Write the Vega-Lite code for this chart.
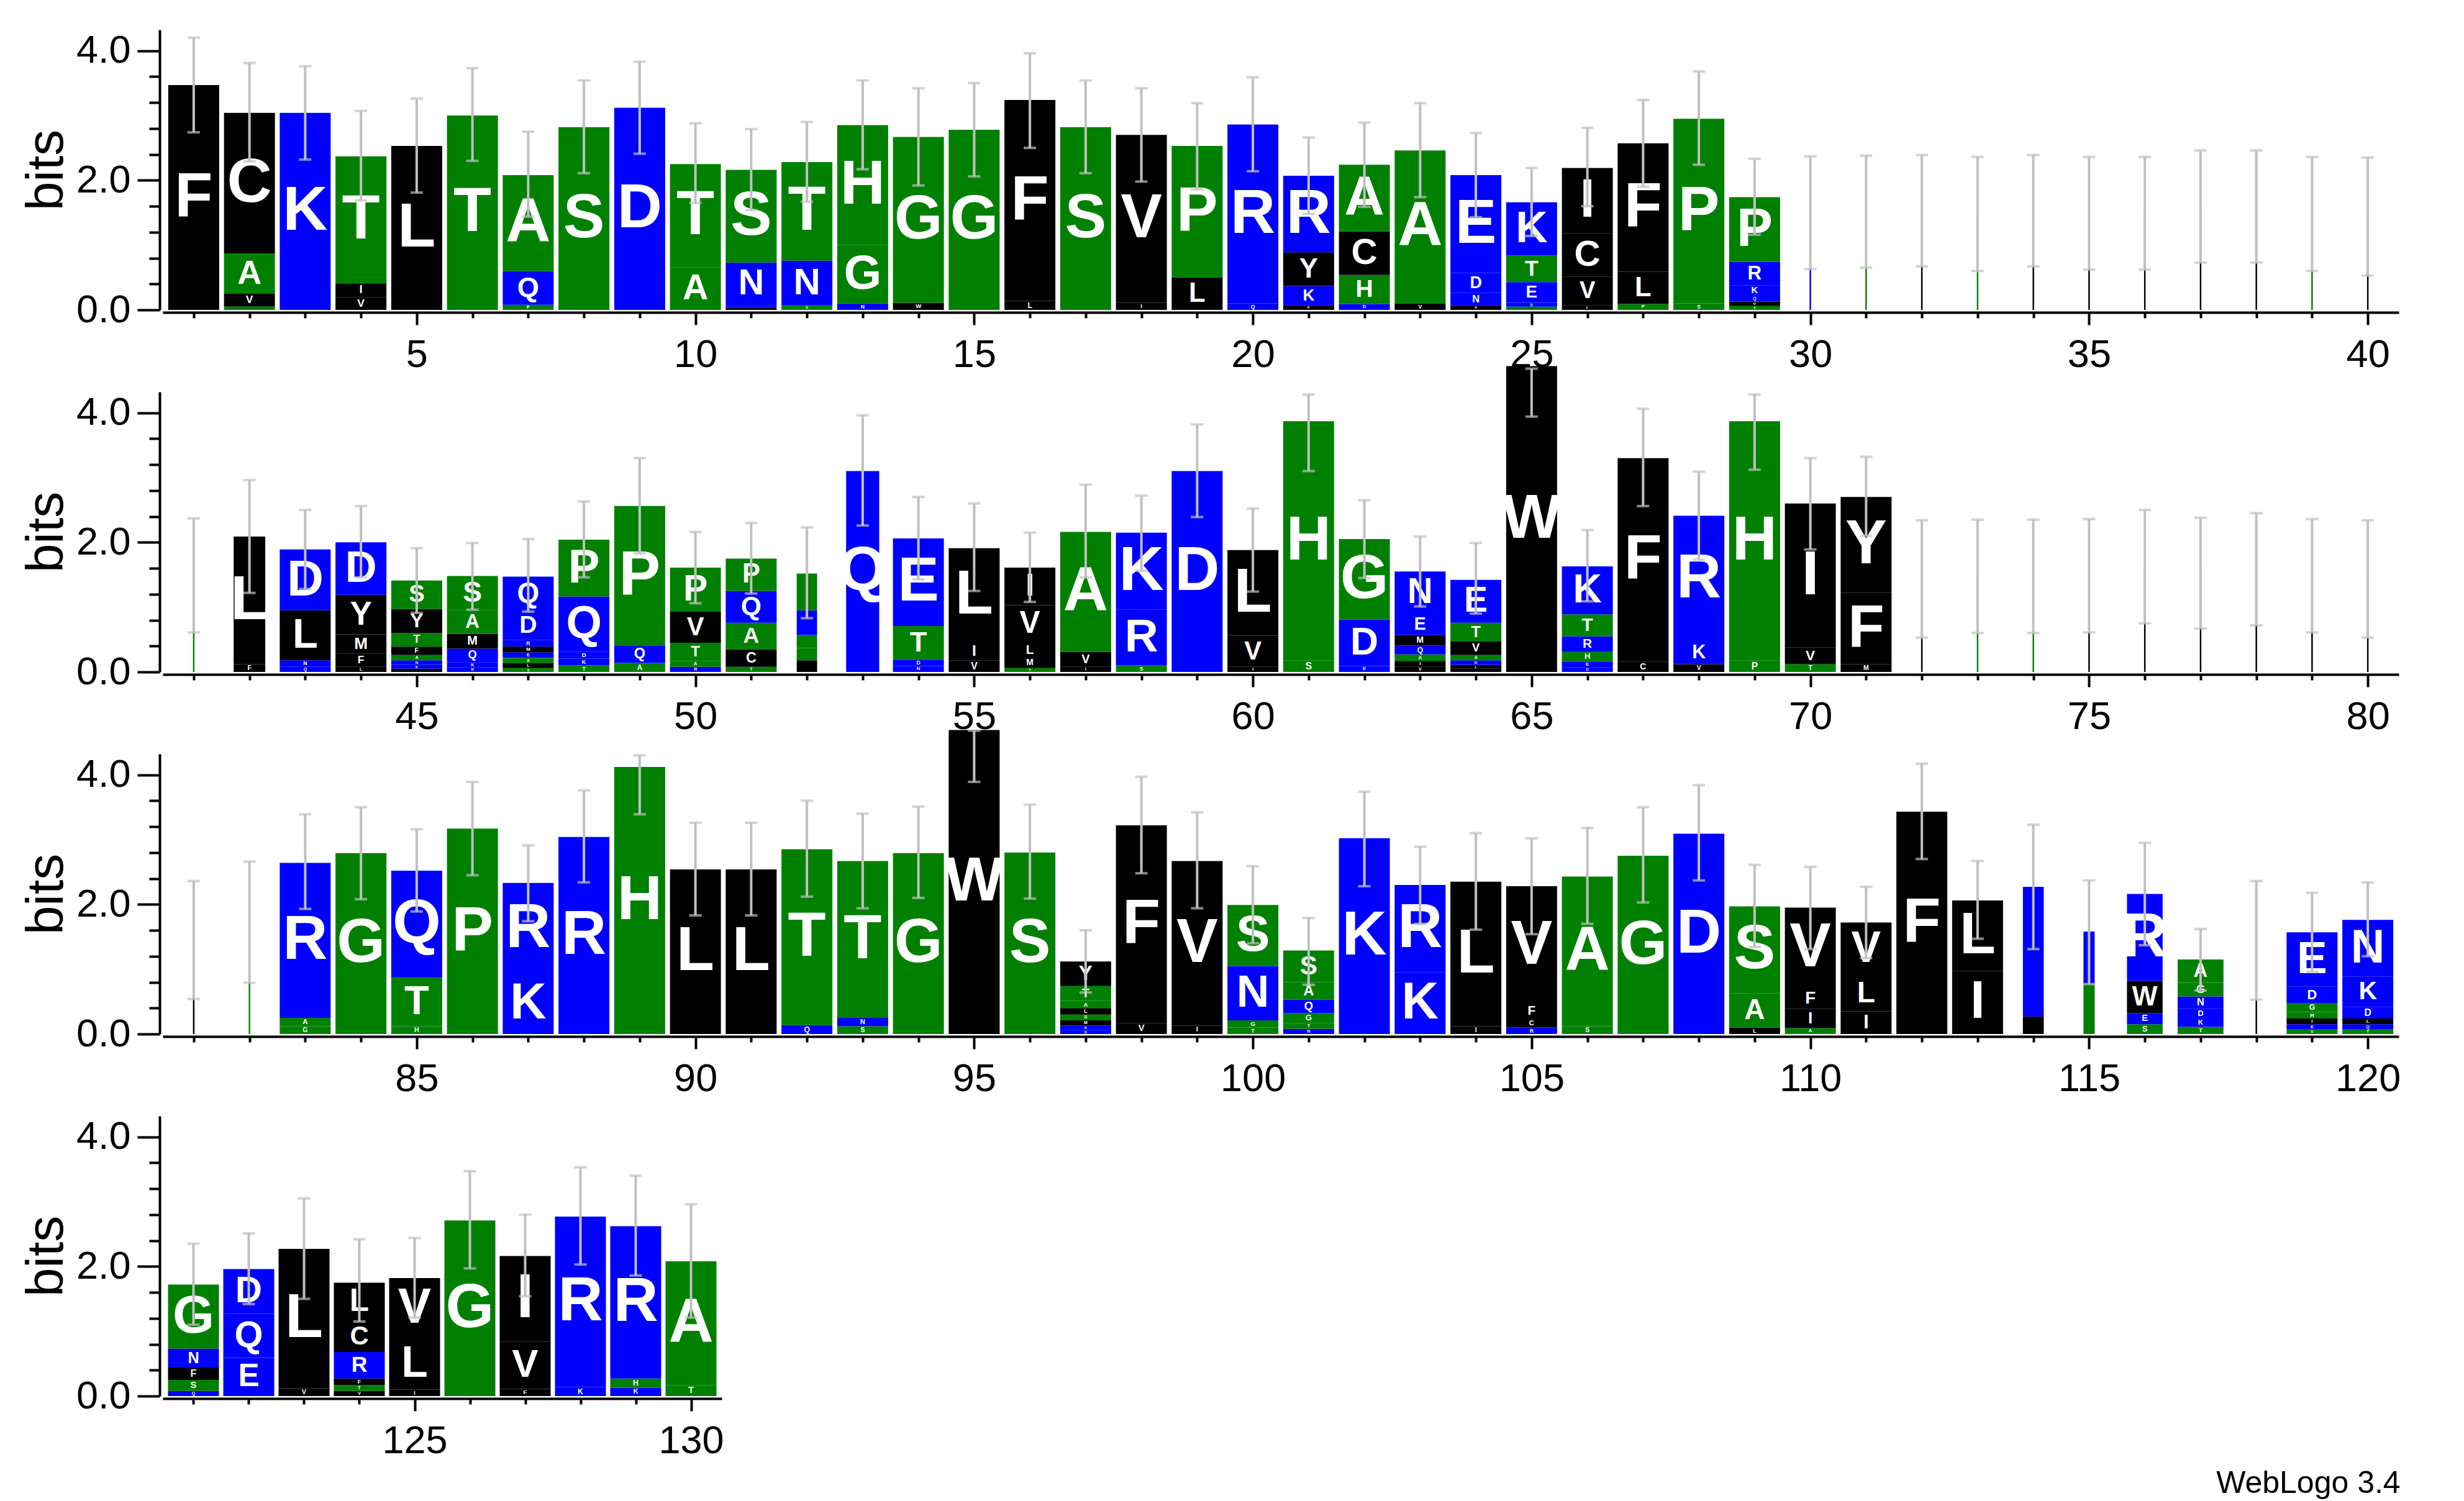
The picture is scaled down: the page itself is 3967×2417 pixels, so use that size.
{
"$schema": "https://vega.github.io/schema/vega-lite/v6.json",
"autosize": {"type": "pad"},
"padding": {"left": 33, "top": 48, "right": 20, "bottom": 20},
"background": "white",
"bounds": "flush",
"spacing": 132,
"title": {"text": "WebLogo 3.4", "orient": "bottom", "anchor": "end", "fontSize": 50, "font": "Liberation Sans", "fontWeight": "normal", "color": "black", "offset": 12},
"config": {
 "view": {"stroke": null},
 "axis": {"labelFont": "Liberation Sans", "labelFontSize": 63, "labelColor": "black", "titleFont": "Liberation Sans", "titleFontSize": 84, "titleFontWeight": "normal", "titleColor": "black", "domainColor": "black", "domainWidth": 4, "tickColor": "black", "tickWidth": 4, "grid": false, "labelOverlap": false, "labelFlush": false, "labelBound": false}
},
"resolve": {"scale": {"size": "independent"}},
"datasets": {
 "occ": [
  {"p":30,"w":0.03},{"p":31,"w":0.03},{"p":32,"w":0.03},{"p":33,"w":0.03},{"p":34,"w":0.03},{"p":35,"w":0.03},{"p":36,"w":0.03},{"p":37,"w":0.03},{"p":38,"w":0.03},{"p":39,"w":0.03},{"p":40,"w":0.03},{"p":41,"w":0.03},
  {"p":42,"w":0.62},{"p":52,"w":0.4},{"p":53,"w":0.65},
  {"p":72,"w":0.03},{"p":73,"w":0.03},{"p":74,"w":0.03},{"p":75,"w":0.03},{"p":76,"w":0.03},{"p":77,"w":0.03},{"p":78,"w":0.03},{"p":79,"w":0.03},{"p":80,"w":0.03},{"p":81,"w":0.03},{"p":82,"w":0.03},
  {"p":114,"w":0.41},{"p":115,"w":0.22},{"p":116,"w":0.7},{"p":117,"w":0.9},{"p":118,"w":0.03}
 ],
 "letters": [
  {"p":1,"a":"F","b":3.47},
  {"p":2,"a":"V","b":0.2},{"p":2,"a":"T","b":0.05},{"p":2,"a":"A","b":0.62},{"p":2,"a":"C","b":2.17},
  {"p":3,"a":"K","b":3.04},
  {"p":4,"a":"V","b":0.2},{"p":4,"a":"I","b":0.21},{"p":4,"a":"T","b":1.96},
  {"p":5,"a":"L","b":2.53},
  {"p":6,"a":"T","b":3.0},
  {"p":7,"a":"P","b":0.08},{"p":7,"a":"Q","b":0.52},{"p":7,"a":"A","b":1.48},
  {"p":8,"a":"S","b":2.82},
  {"p":9,"a":"D","b":3.12},
  {"p":10,"a":"A","b":0.66},{"p":10,"a":"T","b":1.59},
  {"p":11,"a":"C","b":0.03},{"p":11,"a":"K","b":0.04},{"p":11,"a":"N","b":0.66},{"p":11,"a":"S","b":1.43},
  {"p":12,"a":"S","b":0.07},{"p":12,"a":"N","b":0.69},{"p":12,"a":"T","b":1.52},
  {"p":13,"a":"N","b":0.1},{"p":13,"a":"G","b":0.9},{"p":13,"a":"H","b":1.85},
  {"p":14,"a":"W","b":0.11},{"p":14,"a":"G","b":2.56},
  {"p":15,"a":"G","b":2.78},
  {"p":16,"a":"L","b":0.14},{"p":16,"a":"F","b":3.1},
  {"p":17,"a":"S","b":2.82},
  {"p":18,"a":"I","b":0.11},{"p":18,"a":"V","b":2.59},
  {"p":19,"a":"L","b":0.5},{"p":19,"a":"P","b":2.03},
  {"p":20,"a":"Q","b":0.1},{"p":20,"a":"R","b":2.76},
  {"p":21,"a":"F","b":0.07},{"p":21,"a":"K","b":0.3},{"p":21,"a":"Y","b":0.52},{"p":21,"a":"R","b":1.18},
  {"p":22,"a":"D","b":0.09},{"p":22,"a":"H","b":0.45},{"p":22,"a":"C","b":0.67},{"p":22,"a":"A","b":1.03},
  {"p":23,"a":"V","b":0.1},{"p":23,"a":"A","b":2.36},
  {"p":24,"a":"V","b":0.07},{"p":24,"a":"N","b":0.19},{"p":24,"a":"D","b":0.31},{"p":24,"a":"E","b":1.51},
  {"p":25,"a":"S","b":0.05},{"p":25,"a":"D","b":0.06},{"p":25,"a":"E","b":0.32},{"p":25,"a":"T","b":0.41},{"p":25,"a":"K","b":0.82},
  {"p":26,"a":"L","b":0.07},{"p":26,"a":"V","b":0.44},{"p":26,"a":"C","b":0.67},{"p":26,"a":"I","b":1.01},
  {"p":27,"a":"P","b":0.09},{"p":27,"a":"L","b":0.5},{"p":27,"a":"F","b":1.98},
  {"p":28,"a":"S","b":0.1},{"p":28,"a":"P","b":2.85},
  {"p":29,"a":"T","b":0.06},{"p":29,"a":"V","b":0.07},{"p":29,"a":"Q","b":0.08},{"p":29,"a":"K","b":0.17},{"p":29,"a":"R","b":0.36},{"p":29,"a":"P","b":1.0},
  {"p":30,"a":"K","b":1.5},{"p":31,"a":"G","b":1.52},{"p":32,"a":"L","b":1.54},{"p":33,"a":"G","b":1.49},{"p":34,"a":"L","b":1.54},{"p":35,"a":"V","b":1.49},{"p":36,"a":"L","b":1.49},{"p":37,"a":"L","b":1.59},{"p":38,"a":"L","b":1.59},{"p":39,"a":"G","b":1.49},{"p":40,"a":"L","b":1.46},
  {"p":41,"a":"G","b":1.5},
  {"p":42,"a":"F","b":0.12},{"p":42,"a":"L","b":1.97},
  {"p":43,"a":"Q","b":0.08},{"p":43,"a":"N","b":0.1},{"p":43,"a":"L","b":0.77},{"p":43,"a":"D","b":0.94},
  {"p":44,"a":"L","b":0.08},{"p":44,"a":"F","b":0.2},{"p":44,"a":"M","b":0.3},{"p":44,"a":"Y","b":0.61},{"p":44,"a":"D","b":0.81},
  {"p":45,"a":"M","b":0.05},{"p":45,"a":"K","b":0.06},{"p":45,"a":"N","b":0.07},{"p":45,"a":"A","b":0.08},{"p":45,"a":"F","b":0.13},{"p":45,"a":"T","b":0.21},{"p":45,"a":"Y","b":0.37},{"p":45,"a":"S","b":0.44},
  {"p":46,"a":"R","b":0.07},{"p":46,"a":"K","b":0.08},{"p":46,"a":"Q","b":0.21},{"p":46,"a":"M","b":0.23},{"p":46,"a":"A","b":0.36},{"p":46,"a":"S","b":0.53},
  {"p":47,"a":"S","b":0.06},{"p":47,"a":"R","b":0.1},{"p":47,"a":"M","b":0.09},{"p":47,"a":"L","b":0.075},{"p":47,"a":"E","b":0.085},{"p":47,"a":"A","b":0.08},{"p":47,"a":"D","b":0.45},{"p":47,"a":"Q","b":0.53},
  {"p":48,"a":"T","b":0.1},{"p":48,"a":"K","b":0.105},{"p":48,"a":"D","b":0.11},{"p":48,"a":"Q","b":0.85},{"p":48,"a":"P","b":0.875},
  {"p":49,"a":"A","b":0.14},{"p":49,"a":"Q","b":0.27},{"p":49,"a":"P","b":2.15},
  {"p":50,"a":"R","b":0.08},{"p":50,"a":"A","b":0.09},{"p":50,"a":"T","b":0.28},{"p":50,"a":"V","b":0.48},{"p":50,"a":"P","b":0.68},
  {"p":51,"a":"T","b":0.08},{"p":51,"a":"C","b":0.27},{"p":51,"a":"A","b":0.41},{"p":51,"a":"Q","b":0.49},{"p":51,"a":"P","b":0.5},
  {"p":52,"a":"W","b":0.18},{"p":52,"a":"S","b":0.19},{"p":52,"a":"A","b":0.2},{"p":52,"a":"Q","b":0.38},{"p":52,"a":"T","b":0.57},
  {"p":53,"a":"Q","b":3.1},
  {"p":54,"a":"N","b":0.09},{"p":54,"a":"D","b":0.1},{"p":54,"a":"T","b":0.52},{"p":54,"a":"E","b":1.35},
  {"p":55,"a":"V","b":0.18},{"p":55,"a":"I","b":0.28},{"p":55,"a":"L","b":1.45},
  {"p":56,"a":"T","b":0.06},{"p":56,"a":"M","b":0.16},{"p":56,"a":"L","b":0.24},{"p":56,"a":"V","b":0.57},{"p":56,"a":"I","b":0.58},
  {"p":57,"a":"I","b":0.08},{"p":57,"a":"V","b":0.23},{"p":57,"a":"A","b":1.85},
  {"p":58,"a":"S","b":0.1},{"p":58,"a":"R","b":0.86},{"p":58,"a":"K","b":1.19},
  {"p":59,"a":"D","b":3.1},
  {"p":60,"a":"I","b":0.08},{"p":60,"a":"V","b":0.48},{"p":60,"a":"L","b":1.32},
  {"p":61,"a":"S","b":0.18},{"p":61,"a":"H","b":3.69},
  {"p":62,"a":"E","b":0.09},{"p":62,"a":"D","b":0.72},{"p":62,"a":"G","b":1.24},
  {"p":63,"a":"V","b":0.08},{"p":63,"a":"I","b":0.09},{"p":63,"a":"A","b":0.1},{"p":63,"a":"Q","b":0.14},{"p":63,"a":"M","b":0.16},{"p":63,"a":"E","b":0.33},{"p":63,"a":"N","b":0.65},
  {"p":64,"a":"M","b":0.05},{"p":64,"a":"L","b":0.06},{"p":64,"a":"D","b":0.07},{"p":64,"a":"A","b":0.08},{"p":64,"a":"V","b":0.21},{"p":64,"a":"T","b":0.29},{"p":64,"a":"E","b":0.66},
  {"p":65,"a":"W","b":4.72},
  {"p":66,"a":"D","b":0.07},{"p":66,"a":"E","b":0.09},{"p":66,"a":"H","b":0.15},{"p":66,"a":"R","b":0.24},{"p":66,"a":"T","b":0.34},{"p":66,"a":"K","b":0.74},
  {"p":67,"a":"C","b":0.16},{"p":67,"a":"F","b":3.14},
  {"p":68,"a":"V","b":0.12},{"p":68,"a":"K","b":0.35},{"p":68,"a":"R","b":1.94},
  {"p":69,"a":"P","b":0.18},{"p":69,"a":"H","b":3.69},
  {"p":70,"a":"T","b":0.12},{"p":70,"a":"V","b":0.26},{"p":70,"a":"I","b":2.22},
  {"p":71,"a":"M","b":0.12},{"p":71,"a":"F","b":1.1},{"p":71,"a":"Y","b":1.48},
  {"p":72,"a":"L","b":1.44},{"p":73,"a":"G","b":1.48},{"p":74,"a":"G","b":1.48},{"p":75,"a":"L","b":1.48},{"p":76,"a":"L","b":1.63},{"p":77,"a":"L","b":1.54},{"p":78,"a":"L","b":1.58},{"p":79,"a":"L","b":1.48},{"p":80,"a":"L","b":1.44},
  {"p":81,"a":"L","b":1.45},{"p":82,"a":"G","b":1.72},
  {"p":83,"a":"G","b":0.12},{"p":83,"a":"A","b":0.13},{"p":83,"a":"R","b":2.39},
  {"p":84,"a":"G","b":2.79},
  {"p":85,"a":"H","b":0.12},{"p":85,"a":"T","b":0.75},{"p":85,"a":"Q","b":1.65},
  {"p":86,"a":"P","b":3.17},
  {"p":87,"a":"K","b":0.93},{"p":87,"a":"R","b":1.4},
  {"p":88,"a":"R","b":3.04},
  {"p":89,"a":"H","b":4.12},
  {"p":90,"a":"L","b":2.54},
  {"p":91,"a":"L","b":2.54},
  {"p":92,"a":"Q","b":0.14},{"p":92,"a":"T","b":2.71},
  {"p":93,"a":"S","b":0.12},{"p":93,"a":"N","b":0.13},{"p":93,"a":"T","b":2.42},
  {"p":94,"a":"G","b":2.79},
  {"p":95,"a":"W","b":4.69},
  {"p":96,"a":"S","b":2.8},
  {"p":97,"a":"N","b":0.06},{"p":97,"a":"K","b":0.07},{"p":97,"a":"M","b":0.08},{"p":97,"a":"S","b":0.09},{"p":97,"a":"L","b":0.1},{"p":97,"a":"A","b":0.11},{"p":97,"a":"T","b":0.23},{"p":97,"a":"Y","b":0.38},
  {"p":98,"a":"V","b":0.17},{"p":98,"a":"F","b":3.05},
  {"p":99,"a":"I","b":0.13},{"p":99,"a":"V","b":2.54},
  {"p":100,"a":"T","b":0.1},{"p":100,"a":"G","b":0.11},{"p":100,"a":"N","b":0.84},{"p":100,"a":"S","b":0.94},
  {"p":101,"a":"N","b":0.08},{"p":101,"a":"T","b":0.09},{"p":101,"a":"G","b":0.15},{"p":101,"a":"Q","b":0.21},{"p":101,"a":"A","b":0.27},{"p":101,"a":"S","b":0.49},
  {"p":102,"a":"K","b":3.02},
  {"p":103,"a":"K","b":0.95},{"p":103,"a":"R","b":1.35},
  {"p":104,"a":"I","b":0.12},{"p":104,"a":"L","b":2.23},
  {"p":105,"a":"R","b":0.1},{"p":105,"a":"C","b":0.13},{"p":105,"a":"F","b":0.24},{"p":105,"a":"V","b":1.81},
  {"p":106,"a":"S","b":0.12},{"p":106,"a":"A","b":2.31},
  {"p":107,"a":"G","b":2.75},
  {"p":108,"a":"D","b":3.09},
  {"p":109,"a":"L","b":0.1},{"p":109,"a":"A","b":0.53},{"p":109,"a":"S","b":1.34},
  {"p":110,"a":"A","b":0.09},{"p":110,"a":"I","b":0.3},{"p":110,"a":"F","b":0.32},{"p":110,"a":"V","b":1.24},
  {"p":111,"a":"I","b":0.35},{"p":111,"a":"L","b":0.55},{"p":111,"a":"V","b":0.82},
  {"p":112,"a":"F","b":3.43},
  {"p":113,"a":"I","b":0.97},{"p":113,"a":"L","b":1.09},
  {"p":114,"a":"W","b":0.27},{"p":114,"a":"R","b":2.0},
  {"p":115,"a":"S","b":0.77},{"p":115,"a":"D","b":0.81},
  {"p":116,"a":"S","b":0.15},{"p":116,"a":"E","b":0.17},{"p":116,"a":"W","b":0.5},{"p":116,"a":"R","b":1.34},
  {"p":117,"a":"T","b":0.11},{"p":117,"a":"K","b":0.13},{"p":117,"a":"D","b":0.15},{"p":117,"a":"N","b":0.19},{"p":117,"a":"G","b":0.21},{"p":117,"a":"A","b":0.36},
  {"p":118,"a":"L","b":1.45},
  {"p":119,"a":"S","b":0.07},{"p":119,"a":"K","b":0.08},{"p":119,"a":"I","b":0.09},{"p":119,"a":"H","b":0.1},{"p":119,"a":"G","b":0.14},{"p":119,"a":"D","b":0.25},{"p":119,"a":"E","b":0.84},
  {"p":120,"a":"T","b":0.07},{"p":120,"a":"Q","b":0.08},{"p":120,"a":"L","b":0.09},{"p":120,"a":"D","b":0.18},{"p":120,"a":"K","b":0.47},{"p":120,"a":"N","b":0.87},
  {"p":121,"a":"Q","b":0.08},{"p":121,"a":"S","b":0.17},{"p":121,"a":"F","b":0.19},{"p":121,"a":"N","b":0.29},{"p":121,"a":"G","b":0.99},
  {"p":122,"a":"E","b":0.59},{"p":122,"a":"Q","b":0.68},{"p":122,"a":"D","b":0.69},
  {"p":123,"a":"V","b":0.12},{"p":123,"a":"L","b":2.15},
  {"p":124,"a":"V","b":0.08},{"p":124,"a":"T","b":0.09},{"p":124,"a":"F","b":0.1},{"p":124,"a":"R","b":0.41},{"p":124,"a":"C","b":0.48},{"p":124,"a":"L","b":0.59},
  {"p":125,"a":"I","b":0.1},{"p":125,"a":"L","b":0.8},{"p":125,"a":"V","b":0.92},
  {"p":126,"a":"G","b":2.71},
  {"p":127,"a":"F","b":0.11},{"p":127,"a":"V","b":0.73},{"p":127,"a":"I","b":1.32},
  {"p":128,"a":"K","b":0.14},{"p":128,"a":"R","b":2.63},
  {"p":129,"a":"K","b":0.13},{"p":129,"a":"H","b":0.14},{"p":129,"a":"R","b":2.35},
  {"p":130,"a":"T","b":0.17},{"p":130,"a":"A","b":1.91}
 ],
 "errs": [
  {"p":1,"lo":2.74,"hi":4.2},{"p":2,"lo":2.29,"hi":3.81},{"p":3,"lo":2.32,"hi":3.76},{"p":4,"lo":1.69,"hi":3.07},{"p":5,"lo":1.81,"hi":3.26},{"p":6,"lo":2.3,"hi":3.73},{"p":7,"lo":1.44,"hi":2.75},{"p":8,"lo":2.11,"hi":3.54},{"p":9,"lo":2.41,"hi":3.83},{"p":10,"lo":1.65,"hi":2.88},
  {"p":11,"lo":1.54,"hi":2.79},{"p":12,"lo":1.67,"hi":2.9},{"p":13,"lo":2.17,"hi":3.54},{"p":14,"lo":1.92,"hi":3.42},{"p":15,"lo":2.06,"hi":3.5},{"p":16,"lo":2.5,"hi":3.96},{"p":17,"lo":2.11,"hi":3.54},{"p":18,"lo":1.98,"hi":3.42},{"p":19,"lo":1.86,"hi":3.19},{"p":20,"lo":2.14,"hi":3.59},
  {"p":21,"lo":1.48,"hi":2.66},{"p":22,"lo":1.59,"hi":2.89},{"p":23,"lo":1.74,"hi":3.19},{"p":24,"lo":1.43,"hi":2.73},{"p":25,"lo":1.14,"hi":2.19},{"p":26,"lo":1.6,"hi":2.81},{"p":27,"lo":1.9,"hi":3.24},{"p":28,"lo":2.24,"hi":3.68},{"p":29,"lo":1.16,"hi":2.33},{"p":30,"lo":0.63,"hi":2.37},
  {"p":31,"lo":0.65,"hi":2.38},{"p":32,"lo":0.67,"hi":2.39},{"p":33,"lo":0.6,"hi":2.36},{"p":34,"lo":0.67,"hi":2.39},{"p":35,"lo":0.62,"hi":2.36},{"p":36,"lo":0.62,"hi":2.36},{"p":37,"lo":0.73,"hi":2.46},{"p":38,"lo":0.73,"hi":2.46},{"p":39,"lo":0.6,"hi":2.36},{"p":40,"lo":0.53,"hi":2.35},
  {"p":41,"lo":0.61,"hi":2.37},{"p":42,"lo":1.22,"hi":2.96},{"p":43,"lo":1.28,"hi":2.5},{"p":44,"lo":1.46,"hi":2.56},{"p":45,"lo":0.91,"hi":1.91},{"p":46,"lo":0.96,"hi":1.99},{"p":47,"lo":0.93,"hi":2.05},{"p":48,"lo":1.46,"hi":2.63},{"p":49,"lo":1.83,"hi":3.3},{"p":50,"lo":1.06,"hi":2.16},
  {"p":51,"lo":1.21,"hi":2.3},{"p":52,"lo":0.83,"hi":2.23},{"p":53,"lo":2.26,"hi":3.96},{"p":54,"lo":1.43,"hi":2.7},{"p":55,"lo":1.25,"hi":2.6},{"p":56,"lo":1.08,"hi":2.15},{"p":57,"lo":1.46,"hi":2.89},{"p":58,"lo":1.56,"hi":2.72},{"p":59,"lo":2.39,"hi":3.82},{"p":60,"lo":1.24,"hi":2.52},
  {"p":61,"lo":3.1,"hi":4.28},{"p":62,"lo":1.45,"hi":2.65},{"p":63,"lo":1.01,"hi":2.09},{"p":64,"lo":0.9,"hi":1.99},{"p":65,"lo":3.94,"hi":4.68},{"p":66,"lo":1.09,"hi":2.19},{"p":67,"lo":2.56,"hi":4.06},{"p":68,"lo":1.73,"hi":3.09},{"p":69,"lo":3.12,"hi":4.28},{"p":70,"lo":1.89,"hi":3.3},
  {"p":71,"lo":2.1,"hi":3.32},{"p":72,"lo":0.53,"hi":2.34},{"p":73,"lo":0.6,"hi":2.35},{"p":74,"lo":0.6,"hi":2.35},{"p":75,"lo":0.61,"hi":2.36},{"p":76,"lo":0.75,"hi":2.5},{"p":77,"lo":0.67,"hi":2.38},{"p":78,"lo":0.72,"hi":2.45},{"p":79,"lo":0.61,"hi":2.36},{"p":80,"lo":0.53,"hi":2.34},
  {"p":81,"lo":0.54,"hi":2.36},{"p":82,"lo":0.79,"hi":2.66},{"p":83,"lo":1.93,"hi":3.39},{"p":84,"lo":2.08,"hi":3.5},{"p":85,"lo":1.89,"hi":3.16},{"p":86,"lo":2.45,"hi":3.89},{"p":87,"lo":1.74,"hi":2.91},{"p":88,"lo":2.34,"hi":3.76},{"p":89,"lo":3.39,"hi":4.3},{"p":90,"lo":1.83,"hi":3.26},
  {"p":91,"lo":1.83,"hi":3.26},{"p":92,"lo":2.12,"hi":3.6},{"p":93,"lo":1.94,"hi":3.4},{"p":94,"lo":2.1,"hi":3.51},{"p":95,"lo":3.89,"hi":4.68},{"p":96,"lo":2.09,"hi":3.54},{"p":97,"lo":0.64,"hi":1.6},{"p":98,"lo":2.48,"hi":3.97},{"p":99,"lo":1.94,"hi":3.42},{"p":100,"lo":1.4,"hi":2.59},
  {"p":101,"lo":0.76,"hi":1.79},{"p":102,"lo":2.28,"hi":3.74},{"p":103,"lo":1.7,"hi":2.89},{"p":104,"lo":1.61,"hi":3.1},{"p":105,"lo":1.54,"hi":3.02},{"p":106,"lo":1.7,"hi":3.18},{"p":107,"lo":2.03,"hi":3.5},{"p":108,"lo":2.37,"hi":3.84},{"p":109,"lo":1.34,"hi":2.61},{"p":110,"lo":1.31,"hi":2.58},
  {"p":111,"lo":1.17,"hi":2.27},{"p":112,"lo":2.7,"hi":4.17},{"p":113,"lo":1.47,"hi":2.67},{"p":114,"lo":1.31,"hi":3.23},{"p":115,"lo":0.77,"hi":2.37},{"p":116,"lo":1.37,"hi":2.95},{"p":117,"lo":0.67,"hi":1.62},{"p":118,"lo":0.53,"hi":2.36},{"p":119,"lo":0.96,"hi":2.18},{"p":120,"lo":1.2,"hi":2.34},
  {"p":121,"lo":1.1,"hi":2.35},{"p":122,"lo":1.42,"hi":2.51},{"p":123,"lo":1.5,"hi":3.05},{"p":124,"lo":1.15,"hi":2.42},{"p":125,"lo":1.21,"hi":2.44},{"p":126,"lo":1.97,"hi":3.47},{"p":127,"lo":1.54,"hi":2.8},{"p":128,"lo":2.03,"hi":3.53},{"p":129,"lo":1.86,"hi":3.4},{"p":130,"lo":1.21,"hi":2.96}
 ]
},
"vconcat": [
 {
  "width": 3600, "height": 451,
  "resolve": {"scale": {"size": "independent"}},
  "layer": [
   {"data": {"name": "letters"},
    "transform": [{"filter": "datum.p >= 1 && datum.p <= 40"},{"lookup": "p", "from": {"data": {"name": "occ"}, "key": "p", "fields": ["w"]}, "default": 1},{"stack": "b", "groupby": ["p"], "sort": [{"field": "b", "order": "ascending"}], "as": ["y0", "y1"]}],
    "mark": {"type": "bar"},
    "encoding": {
     "x": {"field": "p", "type": "quantitative", "scale": {"domain": [0.5, 40.5], "nice": false, "zero": false}, "title": null,
       "axis": {"offset": 4, "format": "d", "values": [1,2,3,4,5,6,7,8,9,10,11,12,13,14,15,16,17,18,19,20,21,22,23,24,25,26,27,28,29,30,31,32,33,34,35,36,37,38,39,40], "tickSize": {"condition": {"test": "datum.value % 5 === 0", "value": 20}, "value": 9}, "labelExpr": "datum.value % 5 === 0 ? datum.label : ''", "labelPadding": 17}},
     "y": {"field": "y1", "type": "quantitative", "scale": {"domain": [0, 4.3219], "nice": false}, "title": "bits",
       "axis": {"offset": 5, "values": [0,0.2,0.4,0.6,0.8,1,1.2,1.4,1.6,1.8,2,2.2,2.4,2.6,2.8,3,3.2,3.4,3.6,3.8,4,4.2], "tickSize": {"condition": {"test": "abs(datum.value - round(datum.value)) < 0.001", "value": 36}, "value": 17}, "labelExpr": "abs(datum.value - round(datum.value)) < 0.001 ? format(datum.value, '.1f') : ''", "labelPadding": 11, "titlePadding": 4}},
     "y2": {"field": "y0"},
     "color": {"field": "a", "type": "nominal", "legend": null, "scale": {"domain": ["A","C","D","E","F","G","H","I","K","L","M","N","P","Q","R","S","T","V","W","Y"], "range": ["#008000","#000000","#0000ff","#0000ff","#000000","#008000","#008000","#000000","#0000ff","#000000","#000000","#0000ff","#008000","#0000ff","#0000ff","#008000","#008000","#000000","#000000","#000000"]}},
     "size": {"field": "w", "type": "quantitative", "legend": null, "scale": {"domain": [0, 1], "range": [0, 82]}}
    }},
   {"data": {"name": "letters"},
    "transform": [{"filter": "datum.p >= 1 && datum.p <= 40"},{"lookup": "p", "from": {"data": {"name": "occ"}, "key": "p", "fields": ["w"]}, "default": 1},{"stack": "b", "groupby": ["p"], "sort": [{"field": "b", "order": "ascending"}], "as": ["y0", "y1"]},{"filter": "datum.w >= 0.5 && datum.b >= 0.06"}],
    "mark": {"type": "text", "color": "white", "font": "Liberation Sans", "fontWeight": "bold", "baseline": "middle", "align": "center", "dy": {"expr": "datum.b * 52.18"}},
    "encoding": {
     "x": {"field": "p", "type": "quantitative", "title": null},
     "y": {"field": "y1", "type": "quantitative", "title": "bits"},
     "text": {"field": "a"},
     "size": {"field": "b", "type": "quantitative", "legend": null, "scale": {"domain": [0, 1.15], "range": [0, 100], "clamp": true}}
    }},
   {"data": {"name": "errs"},
    "transform": [{"filter": "datum.p >= 1 && datum.p <= 40"}],
    "mark": {"type": "rule", "color": "#c0c0c0", "strokeWidth": 4},
    "encoding": {"x": {"field": "p", "type": "quantitative", "title": null}, "y": {"field": "lo", "type": "quantitative", "title": "bits"}, "y2": {"field": "hi"}}},
   {"data": {"name": "errs"},
    "transform": [{"filter": "datum.p >= 1 && datum.p <= 40"}],
    "mark": {"type": "tick", "orient": "horizontal", "color": "#c0c0c0", "size": 20, "thickness": 4},
    "encoding": {"x": {"field": "p", "type": "quantitative", "title": null}, "y": {"field": "lo", "type": "quantitative", "title": "bits"}}},
   {"data": {"name": "errs"},
    "transform": [{"filter": "datum.p >= 1 && datum.p <= 40"}],
    "mark": {"type": "tick", "orient": "horizontal", "color": "#c0c0c0", "size": 20, "thickness": 4},
    "encoding": {"x": {"field": "p", "type": "quantitative", "title": null}, "y": {"field": "hi", "type": "quantitative", "title": "bits"}}}
  ]
 },
 {
  "width": 3600, "height": 451,
  "resolve": {"scale": {"size": "independent"}},
  "layer": [
   {"data": {"name": "letters"},
    "transform": [{"filter": "datum.p >= 41 && datum.p <= 80"},{"lookup": "p", "from": {"data": {"name": "occ"}, "key": "p", "fields": ["w"]}, "default": 1},{"stack": "b", "groupby": ["p"], "sort": [{"field": "b", "order": "ascending"}], "as": ["y0", "y1"]}],
    "mark": {"type": "bar"},
    "encoding": {
     "x": {"field": "p", "type": "quantitative", "scale": {"domain": [40.5, 80.5], "nice": false, "zero": false}, "title": null,
       "axis": {"offset": 4, "format": "d", "values": [41,42,43,44,45,46,47,48,49,50,51,52,53,54,55,56,57,58,59,60,61,62,63,64,65,66,67,68,69,70,71,72,73,74,75,76,77,78,79,80], "tickSize": {"condition": {"test": "datum.value % 5 === 0", "value": 20}, "value": 9}, "labelExpr": "datum.value % 5 === 0 ? datum.label : ''", "labelPadding": 17}},
     "y": {"field": "y1", "type": "quantitative", "scale": {"domain": [0, 4.3219], "nice": false}, "title": "bits",
       "axis": {"offset": 5, "values": [0,0.2,0.4,0.6,0.8,1,1.2,1.4,1.6,1.8,2,2.2,2.4,2.6,2.8,3,3.2,3.4,3.6,3.8,4,4.2], "tickSize": {"condition": {"test": "abs(datum.value - round(datum.value)) < 0.001", "value": 36}, "value": 17}, "labelExpr": "abs(datum.value - round(datum.value)) < 0.001 ? format(datum.value, '.1f') : ''", "labelPadding": 11, "titlePadding": 4}},
     "y2": {"field": "y0"},
     "color": {"field": "a", "type": "nominal", "legend": null, "scale": {"domain": ["A","C","D","E","F","G","H","I","K","L","M","N","P","Q","R","S","T","V","W","Y"], "range": ["#008000","#000000","#0000ff","#0000ff","#000000","#008000","#008000","#000000","#0000ff","#000000","#000000","#0000ff","#008000","#0000ff","#0000ff","#008000","#008000","#000000","#000000","#000000"]}},
     "size": {"field": "w", "type": "quantitative", "legend": null, "scale": {"domain": [0, 1], "range": [0, 82]}}
    }},
   {"data": {"name": "letters"},
    "transform": [{"filter": "datum.p >= 41 && datum.p <= 80"},{"lookup": "p", "from": {"data": {"name": "occ"}, "key": "p", "fields": ["w"]}, "default": 1},{"stack": "b", "groupby": ["p"], "sort": [{"field": "b", "order": "ascending"}], "as": ["y0", "y1"]},{"filter": "datum.w >= 0.5 && datum.b >= 0.06"}],
    "mark": {"type": "text", "color": "white", "font": "Liberation Sans", "fontWeight": "bold", "baseline": "middle", "align": "center", "dy": {"expr": "datum.b * 52.18"}},
    "encoding": {
     "x": {"field": "p", "type": "quantitative", "title": null},
     "y": {"field": "y1", "type": "quantitative", "title": "bits"},
     "text": {"field": "a"},
     "size": {"field": "b", "type": "quantitative", "legend": null, "scale": {"domain": [0, 1.15], "range": [0, 100], "clamp": true}}
    }},
   {"data": {"name": "errs"},
    "transform": [{"filter": "datum.p >= 41 && datum.p <= 80"}],
    "mark": {"type": "rule", "color": "#c0c0c0", "strokeWidth": 4},
    "encoding": {"x": {"field": "p", "type": "quantitative", "title": null}, "y": {"field": "lo", "type": "quantitative", "title": "bits"}, "y2": {"field": "hi"}}},
   {"data": {"name": "errs"},
    "transform": [{"filter": "datum.p >= 41 && datum.p <= 80"}],
    "mark": {"type": "tick", "orient": "horizontal", "color": "#c0c0c0", "size": 20, "thickness": 4},
    "encoding": {"x": {"field": "p", "type": "quantitative", "title": null}, "y": {"field": "lo", "type": "quantitative", "title": "bits"}}},
   {"data": {"name": "errs"},
    "transform": [{"filter": "datum.p >= 41 && datum.p <= 80"}],
    "mark": {"type": "tick", "orient": "horizontal", "color": "#c0c0c0", "size": 20, "thickness": 4},
    "encoding": {"x": {"field": "p", "type": "quantitative", "title": null}, "y": {"field": "hi", "type": "quantitative", "title": "bits"}}}
  ]
 },
 {
  "width": 3600, "height": 451,
  "resolve": {"scale": {"size": "independent"}},
  "layer": [
   {"data": {"name": "letters"},
    "transform": [{"filter": "datum.p >= 81 && datum.p <= 120"},{"lookup": "p", "from": {"data": {"name": "occ"}, "key": "p", "fields": ["w"]}, "default": 1},{"stack": "b", "groupby": ["p"], "sort": [{"field": "b", "order": "ascending"}], "as": ["y0", "y1"]}],
    "mark": {"type": "bar"},
    "encoding": {
     "x": {"field": "p", "type": "quantitative", "scale": {"domain": [80.5, 120.5], "nice": false, "zero": false}, "title": null,
       "axis": {"offset": 4, "format": "d", "values": [81,82,83,84,85,86,87,88,89,90,91,92,93,94,95,96,97,98,99,100,101,102,103,104,105,106,107,108,109,110,111,112,113,114,115,116,117,118,119,120], "tickSize": {"condition": {"test": "datum.value % 5 === 0", "value": 20}, "value": 9}, "labelExpr": "datum.value % 5 === 0 ? datum.label : ''", "labelPadding": 17}},
     "y": {"field": "y1", "type": "quantitative", "scale": {"domain": [0, 4.3219], "nice": false}, "title": "bits",
       "axis": {"offset": 5, "values": [0,0.2,0.4,0.6,0.8,1,1.2,1.4,1.6,1.8,2,2.2,2.4,2.6,2.8,3,3.2,3.4,3.6,3.8,4,4.2], "tickSize": {"condition": {"test": "abs(datum.value - round(datum.value)) < 0.001", "value": 36}, "value": 17}, "labelExpr": "abs(datum.value - round(datum.value)) < 0.001 ? format(datum.value, '.1f') : ''", "labelPadding": 11, "titlePadding": 4}},
     "y2": {"field": "y0"},
     "color": {"field": "a", "type": "nominal", "legend": null, "scale": {"domain": ["A","C","D","E","F","G","H","I","K","L","M","N","P","Q","R","S","T","V","W","Y"], "range": ["#008000","#000000","#0000ff","#0000ff","#000000","#008000","#008000","#000000","#0000ff","#000000","#000000","#0000ff","#008000","#0000ff","#0000ff","#008000","#008000","#000000","#000000","#000000"]}},
     "size": {"field": "w", "type": "quantitative", "legend": null, "scale": {"domain": [0, 1], "range": [0, 82]}}
    }},
   {"data": {"name": "letters"},
    "transform": [{"filter": "datum.p >= 81 && datum.p <= 120"},{"lookup": "p", "from": {"data": {"name": "occ"}, "key": "p", "fields": ["w"]}, "default": 1},{"stack": "b", "groupby": ["p"], "sort": [{"field": "b", "order": "ascending"}], "as": ["y0", "y1"]},{"filter": "datum.w >= 0.5 && datum.b >= 0.06"}],
    "mark": {"type": "text", "color": "white", "font": "Liberation Sans", "fontWeight": "bold", "baseline": "middle", "align": "center", "dy": {"expr": "datum.b * 52.18"}},
    "encoding": {
     "x": {"field": "p", "type": "quantitative", "title": null},
     "y": {"field": "y1", "type": "quantitative", "title": "bits"},
     "text": {"field": "a"},
     "size": {"field": "b", "type": "quantitative", "legend": null, "scale": {"domain": [0, 1.15], "range": [0, 100], "clamp": true}}
    }},
   {"data": {"name": "errs"},
    "transform": [{"filter": "datum.p >= 81 && datum.p <= 120"}],
    "mark": {"type": "rule", "color": "#c0c0c0", "strokeWidth": 4},
    "encoding": {"x": {"field": "p", "type": "quantitative", "title": null}, "y": {"field": "lo", "type": "quantitative", "title": "bits"}, "y2": {"field": "hi"}}},
   {"data": {"name": "errs"},
    "transform": [{"filter": "datum.p >= 81 && datum.p <= 120"}],
    "mark": {"type": "tick", "orient": "horizontal", "color": "#c0c0c0", "size": 20, "thickness": 4},
    "encoding": {"x": {"field": "p", "type": "quantitative", "title": null}, "y": {"field": "lo", "type": "quantitative", "title": "bits"}}},
   {"data": {"name": "errs"},
    "transform": [{"filter": "datum.p >= 81 && datum.p <= 120"}],
    "mark": {"type": "tick", "orient": "horizontal", "color": "#c0c0c0", "size": 20, "thickness": 4},
    "encoding": {"x": {"field": "p", "type": "quantitative", "title": null}, "y": {"field": "hi", "type": "quantitative", "title": "bits"}}}
  ]
 },
 {
  "width": 900, "height": 451,
  "resolve": {"scale": {"size": "independent"}},
  "layer": [
   {"data": {"name": "letters"},
    "transform": [{"filter": "datum.p >= 121 && datum.p <= 130"},{"lookup": "p", "from": {"data": {"name": "occ"}, "key": "p", "fields": ["w"]}, "default": 1},{"stack": "b", "groupby": ["p"], "sort": [{"field": "b", "order": "ascending"}], "as": ["y0", "y1"]}],
    "mark": {"type": "bar"},
    "encoding": {
     "x": {"field": "p", "type": "quantitative", "scale": {"domain": [120.5, 130.5], "nice": false, "zero": false}, "title": null,
       "axis": {"offset": 4, "format": "d", "values": [121,122,123,124,125,126,127,128,129,130], "tickSize": {"condition": {"test": "datum.value % 5 === 0", "value": 20}, "value": 9}, "labelExpr": "datum.value % 5 === 0 ? datum.label : ''", "labelPadding": 17}},
     "y": {"field": "y1", "type": "quantitative", "scale": {"domain": [0, 4.3219], "nice": false}, "title": "bits",
       "axis": {"offset": 5, "values": [0,0.2,0.4,0.6,0.8,1,1.2,1.4,1.6,1.8,2,2.2,2.4,2.6,2.8,3,3.2,3.4,3.6,3.8,4,4.2], "tickSize": {"condition": {"test": "abs(datum.value - round(datum.value)) < 0.001", "value": 36}, "value": 17}, "labelExpr": "abs(datum.value - round(datum.value)) < 0.001 ? format(datum.value, '.1f') : ''", "labelPadding": 11, "titlePadding": 4}},
     "y2": {"field": "y0"},
     "color": {"field": "a", "type": "nominal", "legend": null, "scale": {"domain": ["A","C","D","E","F","G","H","I","K","L","M","N","P","Q","R","S","T","V","W","Y"], "range": ["#008000","#000000","#0000ff","#0000ff","#000000","#008000","#008000","#000000","#0000ff","#000000","#000000","#0000ff","#008000","#0000ff","#0000ff","#008000","#008000","#000000","#000000","#000000"]}},
     "size": {"field": "w", "type": "quantitative", "legend": null, "scale": {"domain": [0, 1], "range": [0, 82]}}
    }},
   {"data": {"name": "letters"},
    "transform": [{"filter": "datum.p >= 121 && datum.p <= 130"},{"lookup": "p", "from": {"data": {"name": "occ"}, "key": "p", "fields": ["w"]}, "default": 1},{"stack": "b", "groupby": ["p"], "sort": [{"field": "b", "order": "ascending"}], "as": ["y0", "y1"]},{"filter": "datum.w >= 0.5 && datum.b >= 0.06"}],
    "mark": {"type": "text", "color": "white", "font": "Liberation Sans", "fontWeight": "bold", "baseline": "middle", "align": "center", "dy": {"expr": "datum.b * 52.18"}},
    "encoding": {
     "x": {"field": "p", "type": "quantitative", "title": null},
     "y": {"field": "y1", "type": "quantitative", "title": "bits"},
     "text": {"field": "a"},
     "size": {"field": "b", "type": "quantitative", "legend": null, "scale": {"domain": [0, 1.15], "range": [0, 100], "clamp": true}}
    }},
   {"data": {"name": "errs"},
    "transform": [{"filter": "datum.p >= 121 && datum.p <= 130"}],
    "mark": {"type": "rule", "color": "#c0c0c0", "strokeWidth": 4},
    "encoding": {"x": {"field": "p", "type": "quantitative", "title": null}, "y": {"field": "lo", "type": "quantitative", "title": "bits"}, "y2": {"field": "hi"}}},
   {"data": {"name": "errs"},
    "transform": [{"filter": "datum.p >= 121 && datum.p <= 130"}],
    "mark": {"type": "tick", "orient": "horizontal", "color": "#c0c0c0", "size": 20, "thickness": 4},
    "encoding": {"x": {"field": "p", "type": "quantitative", "title": null}, "y": {"field": "lo", "type": "quantitative", "title": "bits"}}},
   {"data": {"name": "errs"},
    "transform": [{"filter": "datum.p >= 121 && datum.p <= 130"}],
    "mark": {"type": "tick", "orient": "horizontal", "color": "#c0c0c0", "size": 20, "thickness": 4},
    "encoding": {"x": {"field": "p", "type": "quantitative", "title": null}, "y": {"field": "hi", "type": "quantitative", "title": "bits"}}}
  ]
 }
]
}
